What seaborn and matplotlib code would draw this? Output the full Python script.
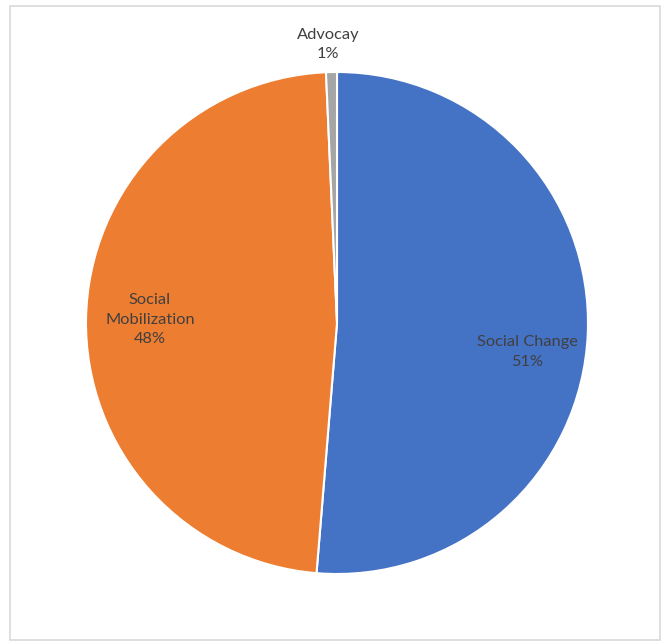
import matplotlib

matplotlib.use("Agg")
import matplotlib.pyplot as plt  # noqa: E402
import matplotlib.patches as mpatches  # noqa: E402
import seaborn as sns  # noqa: E402

categories = ["Social Change", "Social Mobilization", "Advocay"]
shares = [51.3, 48.0, 0.7]
pct_labels = ["51%", "48%", "1%"]
colors = ["#4472C4", "#ED7D31", "#A5A5A5"]

sns.set_theme(style="white")
plt.rcParams["font.family"] = ["Lato", "DejaVu Sans"]

W, H = 666, 641
fig = plt.figure(figsize=(W / 100, H / 100), dpi=100)
fig.patch.set_facecolor("white")

# pie centre ~ (337, 323) px, radius ~ 251 px
cx, cy, r = 337, 323, 251
ax = fig.add_axes([(cx - r) / W, (H - cy - r) / H, 2 * r / W, 2 * r / H])

wedges, texts = ax.pie(
    shares,
    colors=colors,
    startangle=90,
    counterclock=False,
    labels=[f"{c}\n{p}" for c, p in zip(categories, pct_labels)],
    labeldistance=0.75,
    wedgeprops=dict(edgecolor="white", linewidth=1.5),
    textprops=dict(color="#404040", fontsize=11.8, ha="center", va="center", linespacing=1.5),
)
texts[0].set_position((0.757, -0.116))
texts[1].set_text("Social\nMobilization\n48%")
texts[1].set_position((-0.745, 0.012))
texts[2].set_position((-0.036, 1.11))
for t in texts:
    t.set_horizontalalignment("center")
    t.set_verticalalignment("center")

ax.set_xlim(-1, 1)
ax.set_ylim(-1, 1)
ax.set_aspect("equal")
ax.axis("off")

# chart border
border = mpatches.Rectangle(
    (10.5 / W, 1.5 / H), (660 - 10.5) / W, (H - 5.5 - 1.5) / H,
    transform=fig.transFigure, fill=False, edgecolor="#D9D9D9", linewidth=1.2,
)
fig.patches.append(border)

fig.savefig("out.png", dpi=100)
plt.close(fig)
